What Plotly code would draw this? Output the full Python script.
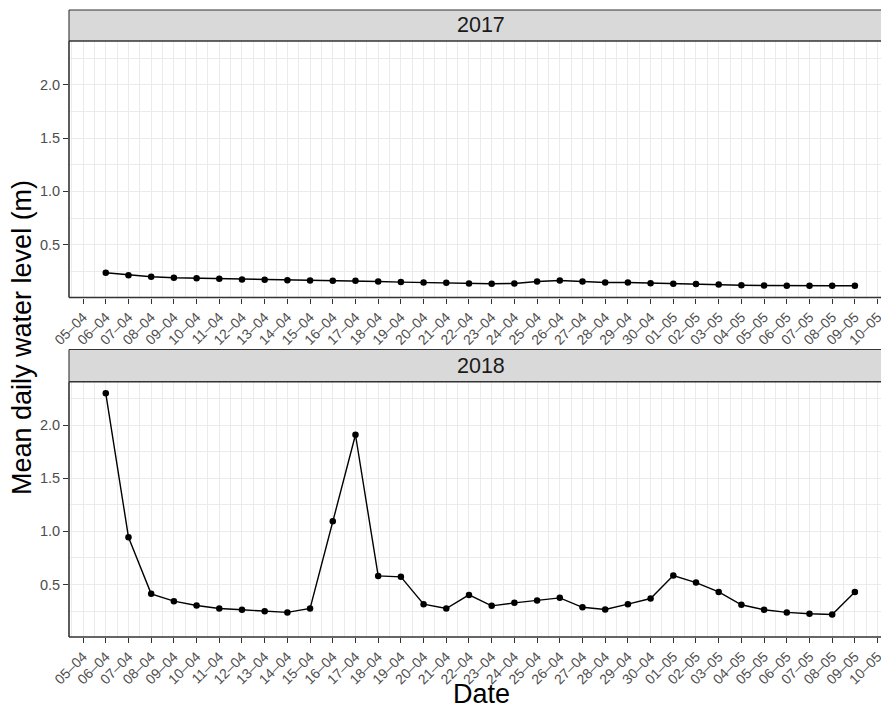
import datetime as dt
import plotly.graph_objects as go
from plotly.subplots import make_subplots

# ---- data ----
day_labels = ["06-04", "07-04", "08-04", "09-04", "10-04", "11-04", "12-04", "13-04",
              "14-04", "15-04", "16-04", "17-04", "18-04", "19-04", "20-04", "21-04",
              "22-04", "23-04", "24-04", "25-04", "26-04", "27-04", "28-04", "29-04",
              "30-04", "01-05", "02-05", "03-05", "04-05", "05-05", "06-05", "07-05",
              "08-05", "09-05"]
level_2017 = [0.237, 0.215, 0.200, 0.190, 0.187, 0.181, 0.175, 0.172,
              0.168, 0.165, 0.162, 0.162, 0.156, 0.150, 0.146, 0.143,
              0.137, 0.134, 0.137, 0.156, 0.165, 0.156, 0.146, 0.146,
              0.140, 0.134, 0.131, 0.128, 0.121, 0.118, 0.115, 0.115,
              0.115, 0.115]
level_2018 = [2.30, 0.945, 0.412, 0.343, 0.302, 0.274, 0.262, 0.249,
              0.237, 0.274, 1.095, 1.91, 0.581, 0.572, 0.315, 0.274,
              0.402, 0.299, 0.327, 0.349, 0.374, 0.285, 0.265, 0.315,
              0.368, 0.584, 0.518, 0.430, 0.309, 0.262, 0.237, 0.224,
              0.218, 0.430]
tick_days = ["05-04", "06-04", "07-04", "08-04", "09-04", "10-04", "11-04", "12-04",
             "13-04", "14-04", "15-04", "16-04", "17-04", "18-04", "19-04", "20-04",
             "21-04", "22-04", "23-04", "24-04", "25-04", "26-04", "27-04", "28-04",
             "29-04", "30-04", "01-05", "02-05", "03-05", "04-05", "05-05", "06-05",
             "07-05", "08-05", "09-05", "10-05"]
years = ["2017", "2018"]
y_ticks = [0.5, 1.0, 1.5, 2.0]


def to_dates(labels, year):
    out = []
    for s in labels:
        d, m = s.split("-")
        out.append(dt.datetime(int(year), int(m), int(d)))
    return out


FONT = "Liberation Sans, Arial, sans-serif"
W, H = 881, 711
ML, MR, MT, MB = 69, 0, 41, 74
PH = H - MT - MB
PW = W - ML - MR


def py(pix):  # pixel y -> paper y
    return (H - MB - pix) / PH


def px(pix):  # pixel x -> paper x
    return (pix - ML) / PW


dom1 = [py(297.5), 1.0]
dom2 = [0.0, py(381.7)]

fig = make_subplots(rows=2, cols=1, shared_xaxes=False, vertical_spacing=0.1)
series = [level_2017, level_2018]
for i, (yr, vals) in enumerate(zip(years, series)):
    fig.add_trace(go.Scatter(
        x=to_dates(day_labels, yr), y=vals, mode="lines+markers",
        line=dict(color="black", width=1.4),
        marker=dict(color="black", size=6.5),
        showlegend=False, hoverinfo="x+y"), row=i + 1, col=1)

for i, yr in enumerate(years):
    tv = to_dates(tick_days, yr)
    start = tv[0] - dt.timedelta(days=0.62)
    end = tv[0] + dt.timedelta(days=35.15)
    axname = "xaxis" if i == 0 else "xaxis2"
    fig.layout[axname].update(
        range=[start, end], tickvals=tv,
        ticktext=[t.replace("-", "\u2013") for t in tick_days],
        tickangle=-45, ticks="outside", ticklen=5, tickcolor="#333333", tickwidth=1,
        tickfont=dict(family=FONT, size=14, color="#4D4D4D"),
        ticklabeloverflow="allow", automargin=False,
        showgrid=True, gridcolor="#EBEBEB", gridwidth=1.2,
        minor=dict(tick0=tv[0] + dt.timedelta(hours=12), dtick=86400000,
                   showgrid=True, gridcolor="#EBEBEB", gridwidth=0.7, ticks=""),
        showline=False, zeroline=False, domain=[0, 1])
    yname = "yaxis" if i == 0 else "yaxis2"
    fig.layout[yname].update(
        range=[0.0055, 2.4095], tickvals=y_ticks,
        ticktext=["%.1f" % v for v in y_ticks],
        ticks="outside", ticklen=5, tickcolor="#333333", tickwidth=1,
        tickfont=dict(family=FONT, size=14.5, color="#4D4D4D"),
        automargin=False,
        showgrid=True, gridcolor="#EBEBEB", gridwidth=1.2,
        minor=dict(tick0=0.25, dtick=0.5, showgrid=True, gridcolor="#EBEBEB",
                   gridwidth=0.7, ticks=""),
        showline=False, zeroline=False, domain=dom1 if i == 0 else dom2)

BORDER = "#333333"
shapes = []
strips = [(py(10), dom1[1]), (py(349.5), dom2[1])]
panels = [dom1, dom2]


def hline(y, w):
    return dict(type="line", xref="paper", yref="paper", x0=0, x1=1.05, y0=y, y1=y,
                line=dict(color=BORDER, width=w), layer="above")


def vline(y0, y1, w):
    return dict(type="line", xref="paper", yref="paper", x0=0, x1=0, y0=y0, y1=y1,
                line=dict(color=BORDER, width=w), layer="above")


for (s_top, s_bot), (p0, p1) in zip(strips, panels):
    shapes.append(dict(type="rect", xref="paper", yref="paper", x0=0, x1=1.05,
                       y0=s_bot, y1=s_top, fillcolor="#D9D9D9",
                       line=dict(width=0), layer="above"))
    shapes.append(hline(s_top, 1.1))
    shapes.append(vline(s_bot, s_top, 1.1))
    shapes.append(hline(p1, 1.6))
    shapes.append(hline(p0, 1.6))
    shapes.append(vline(p0, p1, 1.6))

annotations = []
for yr, (s_top, s_bot) in zip(years, strips):
    annotations.append(dict(text=yr, xref="paper", yref="paper", x=px(481),
                            y=(s_top + s_bot) / 2, xanchor="center", yanchor="middle",
                            showarrow=False,
                            font=dict(family=FONT, size=21.5, color="#1A1A1A")))
annotations.append(dict(text="Mean daily water level (m)", xref="paper", yref="paper",
                        x=px(22), y=py(338), textangle=-90, xanchor="center",
                        yanchor="middle", showarrow=False,
                        font=dict(family=FONT, size=27, color="black")))
annotations.append(dict(text="Date", xref="paper", yref="paper", x=px(481),
                        y=py(694), xanchor="center", yanchor="middle", showarrow=False,
                        font=dict(family=FONT, size=27, color="black")))

fig.update_layout(width=W, height=H, margin=dict(l=ML, r=MR, t=MT, b=MB, pad=0),
                  paper_bgcolor="white", plot_bgcolor="white",
                  shapes=shapes, annotations=annotations)
fig.write_html("out.html", config={"displayModeBar": False},
               post_script="document.body.style.margin='0';"
                           "document.body.style.overflow='hidden';")
